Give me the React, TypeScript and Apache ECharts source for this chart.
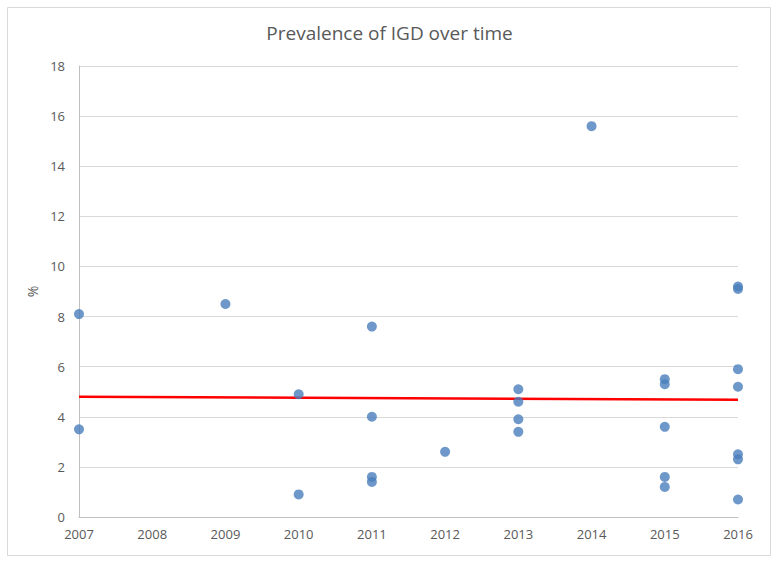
import React, { useEffect, useRef } from "react";
import * as echarts from "echarts";

const years2007 = [8.1, 3.5];
const years2009 = [8.5];
const years2010 = [4.9, 0.9];
const years2011 = [7.6, 4.0, 1.6, 1.4];
const years2012 = [2.6];
const years2013 = [5.1, 4.6, 3.9, 3.4];
const years2014 = [15.6];
const years2015 = [5.5, 5.3, 3.6, 1.6, 1.2];
const years2016 = [9.2, 9.1, 5.9, 5.2, 2.5, 2.3, 0.7];

const groups: [number, number[]][] = [
  [2007, years2007],
  [2009, years2009],
  [2010, years2010],
  [2011, years2011],
  [2012, years2012],
  [2013, years2013],
  [2014, years2014],
  [2015, years2015],
  [2016, years2016],
];

const trendX = [2007, 2016];
const trendY = [4.8, 4.68];

const title = "Prevalence of IGD over time";
const yName = "%";

export default function App() {
  const ref = useRef<HTMLDivElement>(null);
  useEffect(() => {
    if (!ref.current) return;
    const chart = echarts.init(ref.current, null, { renderer: "svg" });
    const points: number[][] = [];
    groups.forEach(([yr, vals]) => vals.forEach((v) => points.push([yr, v])));
    const font = "'Open Sans', 'Noto Sans', sans-serif";
    chart.setOption({
      animation: false,
      backgroundColor: "#ffffff",
      title: {
        text: title,
        left: "center",
        top: 18,
        textStyle: { fontFamily: font, fontSize: 19, fontWeight: "normal", color: "#595959" },
      },
      graphic: [
        {
          type: "rect",
          shape: { x: 7.5, y: 7.5, width: 763, height: 548 },
          style: { fill: "none", stroke: "#d9d9d9", lineWidth: 1 },
          silent: true,
        },
      ],
      grid: { left: 79, right: 41, top: 66, bottom: 46 },
      xAxis: {
        type: "value",
        min: 2007,
        max: 2016,
        interval: 1,
        axisLine: { show: true, lineStyle: { color: "#bfbfbf" } },
        axisTick: { show: false },
        splitLine: { show: false },
        axisLabel: {
          color: "#595959",
          fontFamily: font,
          fontSize: 13,
          margin: 10,
          formatter: (v: number) => String(v),
        },
      },
      yAxis: {
        type: "value",
        min: 0,
        max: 18,
        interval: 2,
        name: yName,
        nameLocation: "middle",
        nameGap: 38,
        nameRotate: 90,
        nameTextStyle: { color: "#595959", fontFamily: font, fontSize: 14 },
        axisLine: { show: true, lineStyle: { color: "#bfbfbf" } },
        axisTick: { show: false },
        splitLine: { show: true, lineStyle: { color: "#d9d9d9" } },
        axisLabel: { color: "#595959", fontFamily: font, fontSize: 13, margin: 14 },
      },
      series: [
        {
          type: "scatter",
          data: points,
          symbolSize: 10,
          itemStyle: { color: "#4a7ebb" },
          z: 3,
        },
        {
          type: "line",
          data: trendX.map((x, i) => [x, trendY[i]]),
          symbol: "none",
          lineStyle: { color: "#ff0000", width: 2.5 },
          z: 2,
        },
      ],
    });
    return () => chart.dispose();
  }, []);
  return (
    <div
      ref={ref}
      style={{ position: "absolute", left: 0, top: 0, width: 779, height: 563 }}
    />
  );
}
